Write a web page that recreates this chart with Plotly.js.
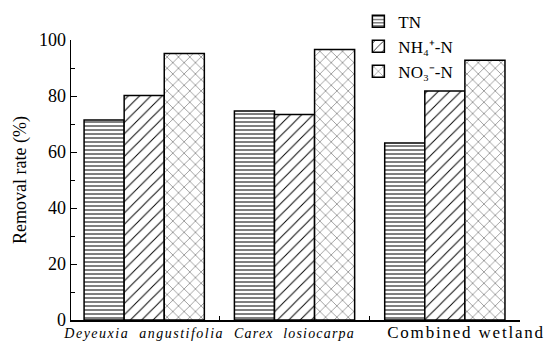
<!DOCTYPE html>
<html><head><meta charset="utf-8">
<script src="https://cdn.plot.ly/plotly-3.0.1.min.js"></script>
<style>html,body{margin:0;padding:0;background:#fff}#chart{width:547px;height:341px}</style>
</head><body><div id="chart"></div>
<script>
var categories = ['Deyeuxia angustifolia', 'Carex losiocarpa', 'Combined wetland'];
var tickLabels = ['<i><span style="letter-spacing:1.5px">Deyeuxia  angustifolia</span></i>',
                  '<i><span style="letter-spacing:1.2px">Carex  losiocarpa</span></i>',
                  '<span style="font-size:17px;letter-spacing:1.8px">&nbsp;&nbsp;&nbsp;&nbsp;&nbsp;&nbsp;&nbsp;Combined wetland</span>'];
var seriesNames = ['TN', 'NH₄⁺-N', 'NO₃⁻-N'];
var tn  = [71.4, 74.6, 63.2];
var nh4 = [80.2, 73.4, 81.8];
var no3 = [95.2, 96.6, 92.8];

var shapes = ['-', '/', 'x'];
var sizes = [4, 8, 8];
var solid = [0.25, 0.12, 0.12];
var data = [tn, nh4, no3].map(function(v, i){
  return {
    type: 'bar', x: categories, y: v, name: seriesNames[i],
    marker: {color: '#fff', line: {color: '#000', width: 1.5},
             pattern: {shape: shapes[i], size: sizes[i], solidity: solid[i], fgcolor: i===2 ? '#444' : '#000', bgcolor: '#fff'}}
  };
});
var serif = 'Liberation Serif, Times New Roman, serif';
var layout = {
  width: 547, height: 341,
  margin: {l: 71, r: 27, t: 40, b: 21, autoexpand: false},
  paper_bgcolor: '#fff', plot_bgcolor: '#fff',
  barmode: 'group', bargap: 0.2, bargroupgap: 0,
  font: {family: serif, color: '#000', size: 15},
  showlegend: true,
  legend: {x: 0.64, y: 1.13, xanchor: 'left', yanchor: 'top',
           bgcolor: 'rgba(0,0,0,0)', font: {family: serif, size: 17}, itemwidth: 30, tracegroupgap: 0,
           traceorder: 'normal'},
  xaxis: {type: 'category', range: [-0.487, 2.5], tickmode: 'array', tickvals: categories, ticktext: tickLabels,
          tickangle: 0, automargin: false,
          tickson: 'boundaries', ticks: 'inside', ticklen: 4, tickcolor: '#000',
          showline: true, linecolor: '#000', linewidth: 1.5, showgrid: false, zeroline: false,
          tickfont: {family: serif, size: 14}},
  yaxis: {range: [0, 100], dtick: 20, ticks: 'inside', ticklen: 6, tickcolor: '#000', automargin: false,
          minor: {dtick: 10, ticks: 'inside', ticklen: 4, tickcolor: '#000'},
          showline: true, linecolor: '#000', linewidth: 1.5, showgrid: false, zeroline: false,
          tickfont: {family: serif, size: 18},
          title: {text: 'Removal rate (%)', font: {family: serif, size: 18}, standoff: 7}}
};
Plotly.newPlot('chart', data, layout, {displayModeBar: false, staticPlot: true});
</script></body></html>
